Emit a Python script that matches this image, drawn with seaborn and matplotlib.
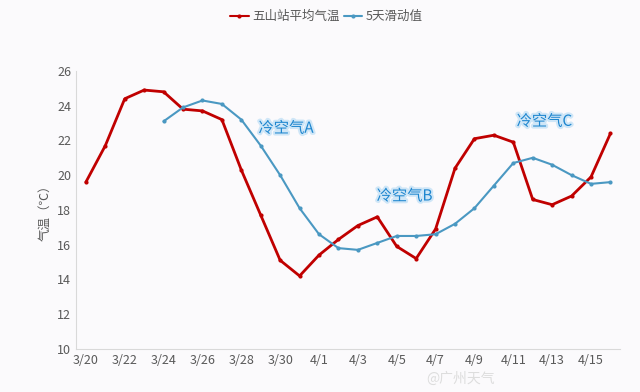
import numpy as np
import matplotlib.pyplot as plt
import matplotlib.patheffects as pe
import seaborn as sns
import pandas as pd

dates = ["3/20", "3/21", "3/22", "3/23", "3/24", "3/25", "3/26", "3/27", "3/28", "3/29",
         "3/30", "3/31", "4/1", "4/2", "4/3", "4/4", "4/5", "4/6", "4/7", "4/8",
         "4/9", "4/10", "4/11", "4/12", "4/13", "4/14", "4/15", "4/16"]
temp = [19.6, 21.7, 24.4, 24.9, 24.8, 23.8, 23.7, 23.2, 20.3, 17.7,
        15.1, 14.2, 15.4, 16.3, 17.1, 17.6, 15.9, 15.2, 16.9, 20.4,
        22.1, 22.3, 21.9, 18.6, 18.3, 18.8, 19.9, 22.4]
moving = [np.nan, np.nan, np.nan, np.nan, 23.1, 23.9, 24.3, 24.1, 23.2, 21.7,
          20.0, 18.1, 16.6, 15.8, 15.7, 16.1, 16.5, 16.5, 16.6, 17.2,
          18.1, 19.4, 20.7, 21.0, 20.6, 20.0, 19.5, 19.6]
notes = ["冷空气A", "冷空气B", "冷空气C"]
note_pos = [(10.3, 22.7), (16.4, 18.8), (23.6, 23.1)]

sns.set_style("white")
plt.rcParams['font.family'] = ['Noto Sans CJK SC', 'DejaVu Sans']

df = pd.DataFrame({"day": np.arange(len(dates)), "五山站平均气温": temp, "5天滑动值": moving})
long = df.melt(id_vars="day", var_name="series", value_name="value").dropna()

fig = plt.figure(figsize=(6.4, 3.92), dpi=100, facecolor="#fbfafc")
ax = fig.add_axes([0.119, 0.110, 0.850, 0.709])
ax.set_facecolor("#fbfafc")

sns.lineplot(data=long, x="day", y="value", hue="series",
             palette={"五山站平均气温": "#c00000", "5天滑动值": "#4a98c2"},
             marker="o", markersize=3, markeredgewidth=0, ax=ax, sort=False)
for line, lw in zip(ax.lines, [2.0, 1.5]):
    line.set_linewidth(lw)

ax.set_xlim(-0.5, len(dates) - 0.5)
ax.set_ylim(10, 26)
ax.set_yticks(range(10, 27, 2))
ax.set_xticks(range(0, len(dates), 2))
ax.set_xticklabels(dates[::2])
ax.tick_params(axis="both", labelsize=9, colors="#595959", length=0)
ax.set_xlabel("")
ax.set_ylabel("气温（℃）", fontsize=9, color="#595959")
sns.despine(ax=ax)
for s in ["left", "bottom"]:
    ax.spines[s].set_color("#d9d9d9")

for txt, (x, y) in zip(notes, note_pos):
    ax.text(x, y, txt, fontsize=11, color="#1e86cf", ha="center", va="center",
            path_effects=[pe.withStroke(linewidth=3, foreground="#cfe6f7")])

handles, labels = ax.get_legend_handles_labels()
ax.legend(handles, labels, loc="center", bbox_to_anchor=(0.46, 1.195), ncol=2,
          frameon=False, fontsize=9, handlelength=1.5, columnspacing=0.3, handletextpad=0.3,
          labelcolor="#595959")

fig.text(0.72, 0.035, "@广州天气", fontsize=10, color="#dddddd", ha="center", va="center")

fig.savefig("out.png", dpi=100, facecolor=fig.get_facecolor())
